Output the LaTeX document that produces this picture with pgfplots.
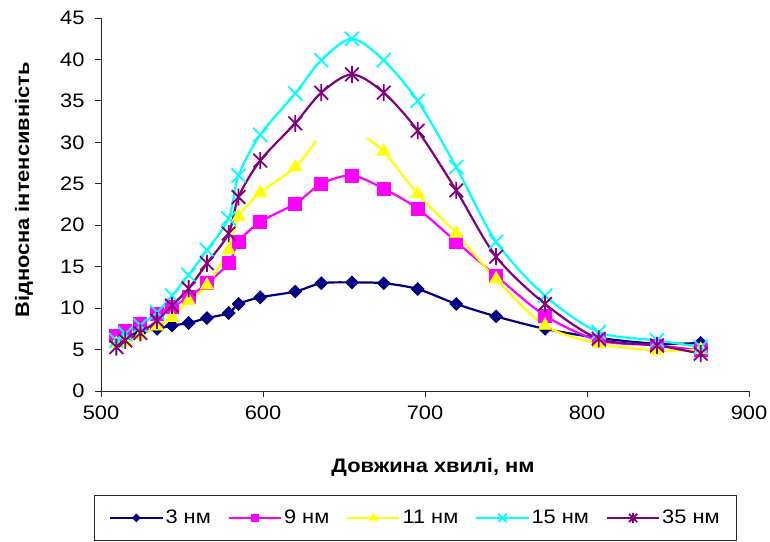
\documentclass[border=0pt]{standalone}
\usepackage{fontspec}
\setmainfont{Liberation Sans}[FakeStretch=1.12]
\usepackage{pgfplots}
\pgfplotsset{compat=1.18}
\usetikzlibrary{plotmarks}

\definecolor{xlnavy}{RGB}{0,0,128}
\definecolor{xlmagenta}{RGB}{255,0,255}
\definecolor{xlyellow}{RGB}{255,255,0}
\definecolor{xlcyan}{RGB}{0,255,255}
\definecolor{xlpurple}{RGB}{128,0,128}

% Excel "star" marker: an x with a vertical bar
\pgfdeclareplotmark{xstar}{%
  \pgfpathmoveto{\pgfqpoint{-.8\pgfplotmarksize}{-.8\pgfplotmarksize}}%
  \pgfpathlineto{\pgfqpoint{.8\pgfplotmarksize}{.8\pgfplotmarksize}}%
  \pgfpathmoveto{\pgfqpoint{-.8\pgfplotmarksize}{.8\pgfplotmarksize}}%
  \pgfpathlineto{\pgfqpoint{.8\pgfplotmarksize}{-.8\pgfplotmarksize}}%
  \pgfpathmoveto{\pgfqpoint{0pt}{-\pgfplotmarksize}}%
  \pgfpathlineto{\pgfqpoint{0pt}{\pgfplotmarksize}}%
  \pgfusepathqstroke}

\begin{document}
\begin{tikzpicture}[x=1pt,y=1pt]
\useasboundingbox (0,0) rectangle (770,541);
\begin{axis}[
    at={(101pt,150pt)}, anchor=south west,
    width=648pt, height=373pt, scale only axis,
    xmin=500, xmax=900, ymin=0, ymax=45,
    xtick={500,600,700,800,900},
    ytick={0,5,...,45},
    axis x line*=bottom, axis y line*=left,
    axis line style={black!85, line width=0.9pt},
    tick style={black!85, line width=0.9pt},
    tick align=outside, major tick length=6pt,
    /pgf/number format/assume math mode=true,
    tick label style={font=\fontsize{19.5}{22}\selectfont},
    xticklabel style={yshift=-5pt},
    yticklabel style={xshift=-7pt},
    xlabel={\bfseries Довжина хвилі, нм},
    ylabel={\bfseries Відносна інтенсивність},
    label style={font=\fontsize{19.5}{22}\selectfont},
    xlabel style={at={(axis description cs:0.5123,-0.2198)}, anchor=base},
    ylabel style={at={(axis description cs:-0.1188,0.539)}, anchor=center, rotate=0},
    every axis plot/.append style={line width=2.2pt, smooth, tension=0.5},
    legend columns=5,
    legend cell align=left,
    legend style={at={(axis description cs:0.4853,-0.2788)}, anchor=north,
        draw=black!85, line width=0.7pt,
        font=\fontsize{19.5}{22}\selectfont,
        inner xsep=15pt, inner ysep=13pt,
        /tikz/every even column/.append style={column sep=15pt}},
    legend image code/.code={%
        \draw[mark repeat=2, mark phase=2, /tikz/every mark/.append style={scale=0.6}]
        plot coordinates {(0pt,0pt) (26pt,0pt) (52pt,0pt)};},
]

% 3 nm
\addplot[color=xlnavy, mark=square*, mark size=4.5pt,
    mark options={rotate=45, fill=xlnavy, line width=0.8pt}]
coordinates {
(509.5,6.0) (515,6.5) (524.3,7.1) (534.6,7.5) (543.8,7.9) (554.1,8.2)
(565.4,8.8) (578.8,9.4) (584.9,10.5) (598.3,11.3) (619.9,12.0) (636,13.0)
(654.9,13.1) (674.5,13.0) (695.5,12.3) (719.3,10.5) (743.9,9.0) (774.1,7.5)
(807.2,6.4) (843.2,5.7) (870.2,5.8)
};
\addlegendentry{3 нм}

% 9 nm
\addplot[color=xlmagenta, mark=square*, mark size=6.5pt,
    mark options={fill=xlmagenta, line width=0.8pt}]
coordinates {
(509.5,6.7) (515,7.2) (524.3,8.1) (534.6,9.25) (543.8,10.2) (554.1,11.3)
(565.4,13.0) (578.8,15.4) (584.9,18.0) (598.3,20.4) (619.9,22.6) (636,25.0)
(654.9,26.0) (674.5,24.4) (695.5,22.0) (719.3,18.0) (743.9,13.9) (774.1,9.1)
(807.2,6.1) (843.2,5.5) (870.2,4.9)
};
\addlegendentry{9 нм}

% 11 nm: the line breaks near the peak
\addplot[color=xlyellow, forget plot] coordinates {
(509.5,5.7) (515,5.9) (524.3,6.7) (534.6,7.8) (543.8,8.85) (554.1,10.9)
(565.4,12.75) (578.8,17.0) (584.9,21.0) (598.3,23.9) (619.9,27.0) (632.9,30.2)
};
\addplot[color=xlyellow, forget plot] coordinates {
(664.2,30.45) (674.5,28.9) (695.5,23.8) (719.3,19.0) (743.9,13.5) (774.1,7.9)
(807.2,5.7) (843.2,4.9) (870.2,5.0)
};
\addplot[color=xlyellow, only marks, mark=triangle*, mark size=7.5pt,
    mark options={fill=xlyellow, line width=0.8pt},
    legend image code/.code={%
        \draw (0pt,0pt) -- (52pt,0pt);
        \draw[/tikz/every mark/.append style={scale=0.6}] plot coordinates {(26pt,0pt)};}]
coordinates {
(509.5,5.7) (515,5.9) (524.3,6.7) (534.6,7.8) (543.8,8.85) (554.1,10.9)
(565.4,12.75) (578.8,17.0) (584.9,21.0) (598.3,23.9) (619.9,27.0)
(674.5,28.9) (695.5,23.8) (719.3,19.0) (743.9,13.5) (774.1,7.9)
(807.2,5.7) (843.2,4.9) (870.2,5.0)
};
\addlegendentry{11 нм}

% 15 nm
\addplot[color=xlcyan, mark=x, mark size=10pt,
    mark options={line width=1.8pt}]
coordinates {
(509.5,6.1) (515,6.9) (524.3,7.9) (534.6,9.5) (543.8,11.5) (554.1,14.0)
(565.4,17.0) (578.8,20.8) (584.9,26.0) (598.3,30.9) (619.9,35.9) (636,39.9)
(654.9,42.5) (674.5,39.9) (695.5,35.0) (719.3,27.0) (743.9,18.0) (774.1,11.5)
(807.2,7.1) (843.2,6.1) (870.2,5.3)
};
\addlegendentry{15 нм}

% 35 nm
\addplot[color=xlpurple, mark=xstar, mark size=8.5pt,
    mark options={line width=1.8pt}]
coordinates {
(509.5,5.3) (515,6.1) (524.3,7.0) (534.6,8.5) (543.8,10.3) (554.1,12.35)
(565.4,15.4) (578.8,19.0) (584.9,23.4) (598.3,27.8) (619.9,32.3) (636,36.0)
(654.9,38.2) (674.5,36.0) (695.5,31.4) (719.3,24.2) (743.9,16.2) (774.1,10.5)
(807.2,6.3) (843.2,5.5) (870.2,4.5)
};
\addlegendentry{35 нм}

\end{axis}
\end{tikzpicture}
\end{document}
